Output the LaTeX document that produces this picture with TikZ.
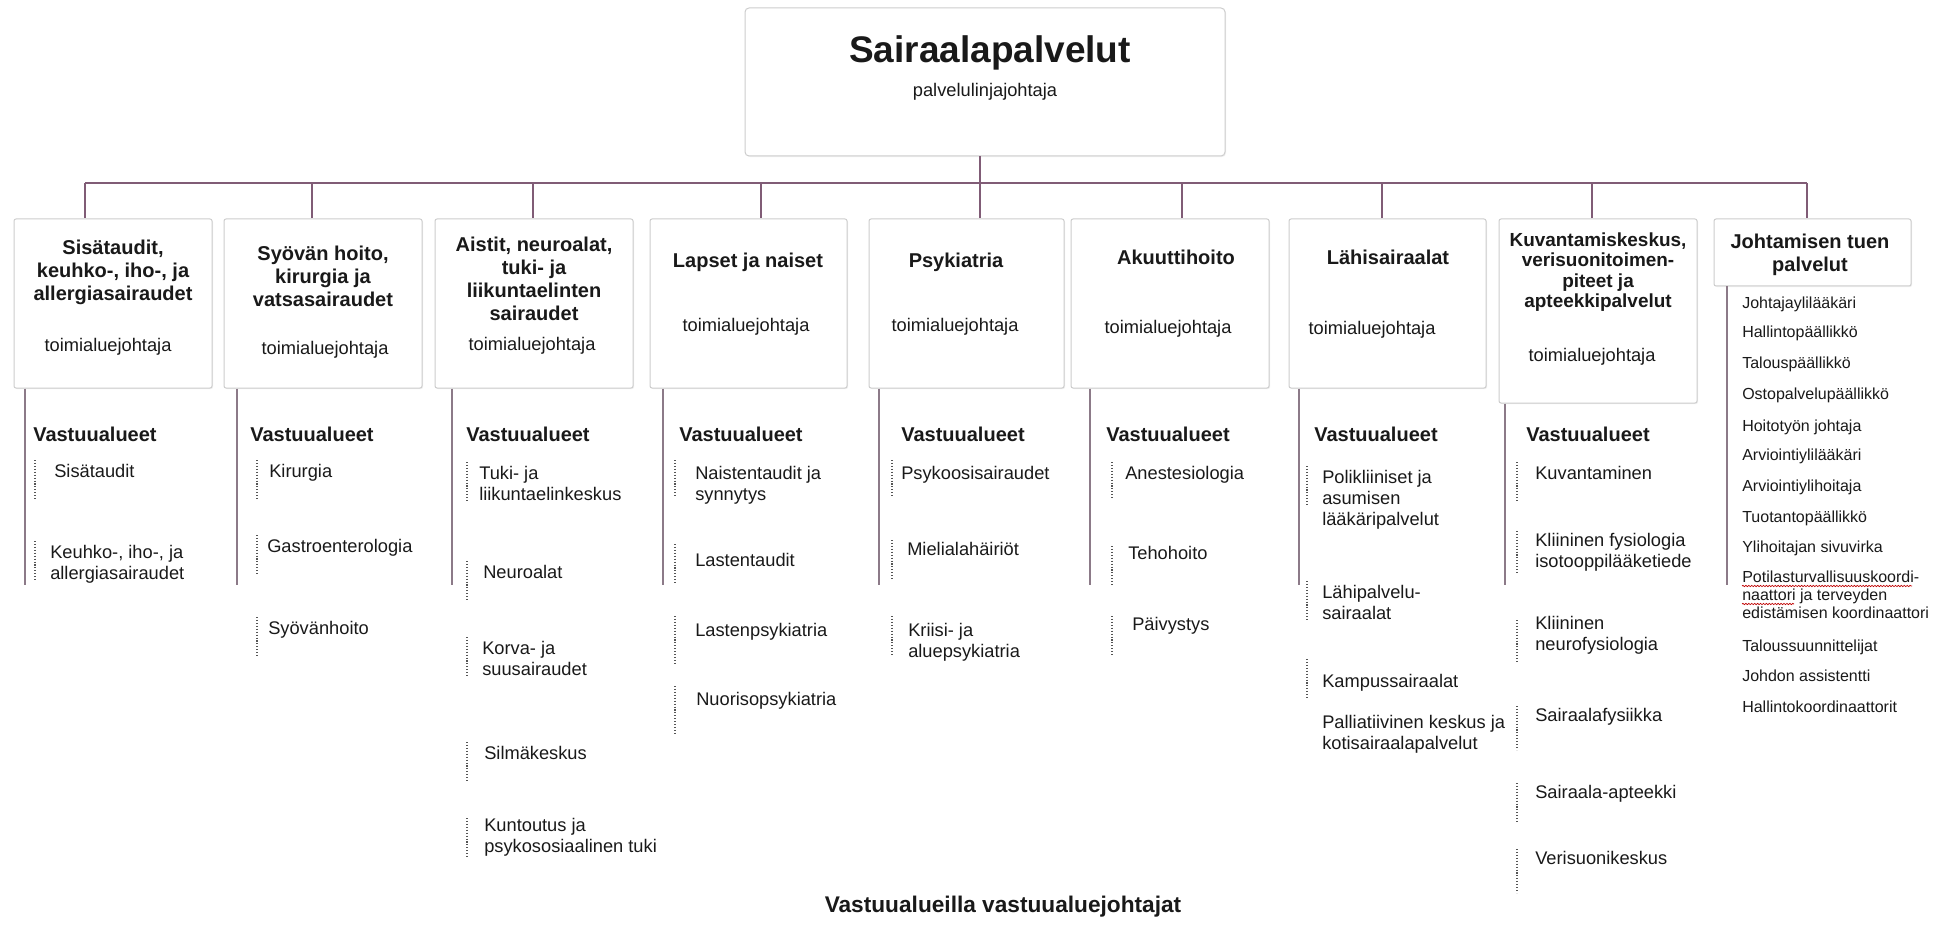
\documentclass[tikz,border=0pt]{standalone}
\usepackage{fontspec}
\setmainfont{Liberation Sans}
\usetikzlibrary{
  calc,
  decorations.pathmorphing,
  fit,
  positioning,
  shadows
}
\definecolor{ink}{RGB}{25,25,25}
\definecolor{boxgray}{RGB}{205,205,205}
\definecolor{busmauve}{RGB}{128,92,118}
\definecolor{rulemauve}{RGB}{140,122,136}
\definecolor{dotgray}{RGB}{85,85,85}
\tikzset{
  % For the boxes of the chart.
  box/.style={
    draw=boxgray,
    line width=0.75pt,
    rounded corners=1.5pt,
    fill=white,
    drop shadow={shadow xshift=0.8pt, shadow yshift=-0.8pt, opacity=0.12},
    inner sep=0pt},
%
  % For the lines from the top box down to the units.
  bus line/.style={
    draw=busmauve,
    line width=1.1pt},
%
  % For the solid lines below the unit boxes.
  column line/.style={
    draw=rulemauve,
    line width=1.1pt},
%
  % For the short dotted lines in front of the items.
  dotrule/.style={
    draw=dotgray,
    line width=0.8pt,
    dash pattern=on 0.8pt off 1.4pt},
%
  % For the wavy spell-check underline.
  spelling/.style={
    draw=red!75!black,
    line width=0.5pt,
    decorate,
    decoration={snake, amplitude=0.5pt, segment length=2.2pt}},
%
  % For the name of the whole service line.
  main title/.style={
    text=ink,
    font=\fontsize{27.75}{32}\selectfont\bfseries},
%
  % For the names of the units.
  heading/.style={
    text=ink,
    align=center,
    inner sep=0pt,
    font=\fontsize{15}{17.25}\selectfont\bfseries},
  small heading/.style={
    heading,
    font=\fontsize{14.2}{15.2}\selectfont\bfseries},
%
  % For the job titles inside the boxes.
  role/.style={
    text=ink,
    inner sep=0pt,
    font=\fontsize{13.7}{16}\selectfont},
%
  % For the 'Vastuualueet' headings.
  areas/.style={
    text=ink,
    anchor=west,
    inner sep=0pt,
    font=\fontsize{15}{17}\selectfont\bfseries},
%
  % For the areas of responsibility.
  item/.style={
    text=ink,
    anchor=north west,
    align=left,
    inner sep=0pt,
    font=\fontsize{13.7}{15.75}\selectfont},
%
  % For the staff list of the last unit.
  staff/.style={
    item,
    font=\fontsize{12}{13.5}\selectfont},
%
  % For the note at the bottom.
  footer/.style={
    text=ink,
    font=\fontsize{17}{20}\selectfont\bfseries}
}

\begin{document}
\begin{tikzpicture}[x=0.75pt, y=-0.75pt]
  \useasboundingbox (0,0) rectangle (1940,930);

  % top box
  \node[box, rounded corners=3pt, fit={(745,8) (1225,156)}] (chief) {};
  \node[main title] (chief title) at (990,53) {Sairaalapalvelut};
  \node[role] (chief role) at (985,92) {palvelulinjajohtaja};

  \coordinate (bus) at (0,183);
  \coordinate (stem 1) at (85,0);
  \coordinate (stem 2) at (312,0);
  \coordinate (stem 3) at (533,0);
  \coordinate (stem 4) at (761,0);
  \coordinate (stem 5) at (980,0);
  \coordinate (stem 6) at (1182,0);
  \coordinate (stem 7) at (1382,0);
  \coordinate (stem 8) at (1592,0);
  \coordinate (stem 9) at (1807,0);

  % unit boxes
  \node[box, fit={(14,219) (212,388)}] (box 1) {};
  \node[box, fit={(224,219) (422,388)}] (box 2) {};
  \node[box, fit={(435,219) (633,388)}] (box 3) {};
  \node[box, fit={(650,219) (847,388)}] (box 4) {};
  \node[box, fit={(869,219) (1064,388)}] (box 5) {};
  \node[box, fit={(1071,219) (1269,388)}] (box 6) {};
  \node[box, fit={(1289,219) (1486,388)}] (box 7) {};
  \node[box, fit={(1499,219) (1697,403)}] (box 8) {};
  \node[box, fit={(1714,219) (1911,286)}] (box 9) {};

  \draw[bus line] (chief.south -| stem 5) -- (stem 5 |- bus);
  \draw[bus line] (stem 1 |- bus) -- (stem 9 |- bus);
  \draw[bus line] (stem 1 |- bus) -- (stem 1 |- box 1.north);
  \draw[bus line] (stem 2 |- bus) -- (stem 2 |- box 2.north);
  \draw[bus line] (stem 3 |- bus) -- (stem 3 |- box 3.north);
  \draw[bus line] (stem 4 |- bus) -- (stem 4 |- box 4.north);
  \draw[bus line] (stem 5 |- bus) -- (stem 5 |- box 5.north);
  \draw[bus line] (stem 6 |- bus) -- (stem 6 |- box 6.north);
  \draw[bus line] (stem 7 |- bus) -- (stem 7 |- box 7.north);
  \draw[bus line] (stem 8 |- bus) -- (stem 8 |- box 8.north);
  \draw[bus line] (stem 9 |- bus) -- (stem 9 |- box 9.north);

  \node[heading] (head 1) at (113,272)
    {Sisätaudit,\\keuhko-, iho-, ja\\allergiasairaudet};
  \node[role] (role 1) at (108,347) {toimialuejohtaja};
  \node[heading] (head 2) at (323,276)
    {Syövän hoito,\\kirurgia ja\\vatsasairaudet};
  \node[role] (role 2) at (325,350) {toimialuejohtaja};
  \node[heading] (head 3) at (534,279)
    {Aistit, neuroalat,\\tuki- ja\\liikuntaelinten\\sairaudet};
  \node[role] (role 3) at (532,346) {toimialuejohtaja};
  \node[heading] (head 4) at (748,262) {Lapset ja naiset};
  \node[role] (role 4) at (746,327) {toimialuejohtaja};
  \node[heading] (head 5) at (956,262) {Psykiatria};
  \node[role] (role 5) at (955,327) {toimialuejohtaja};
  \node[heading] (head 6) at (1176,257) {Akuuttihoito};
  \node[role] (role 6) at (1168,329) {toimialuejohtaja};
  \node[heading] (head 7) at (1388,257) {Lähisairaalat};
  \node[role] (role 7) at (1372,330) {toimialuejohtaja};
  \node[small heading] (head 8) at (1598,272)
    {Kuvantamiskeskus,\\verisuonitoimen-\\piteet ja\\apteekkipalvelut};
  \node[role] (role 8) at (1592,357) {toimialuejohtaja};
  \node[heading] (head 9) at (1810,255) {Johtamisen tuen\\palvelut};

  % solid lines below the boxes
  \coordinate (rule 1) at (25,585);
  \coordinate (rule 2) at (237,585);
  \coordinate (rule 3) at (452,585);
  \coordinate (rule 4) at (663,585);
  \coordinate (rule 5) at (879,585);
  \coordinate (rule 6) at (1090,585);
  \coordinate (rule 7) at (1299,585);
  \coordinate (rule 8) at (1505,585);
  \coordinate (rule 9) at (1727,585);
  \draw[column line] (rule 1 |- box 1.south) -- (rule 1);
  \draw[column line] (rule 2 |- box 2.south) -- (rule 2);
  \draw[column line] (rule 3 |- box 3.south) -- (rule 3);
  \draw[column line] (rule 4 |- box 4.south) -- (rule 4);
  \draw[column line] (rule 5 |- box 5.south) -- (rule 5);
  \draw[column line] (rule 6 |- box 6.south) -- (rule 6);
  \draw[column line] (rule 7 |- box 7.south) -- (rule 7);
  \draw[column line] (rule 8 |- box 8.south) -- (rule 8);
  \draw[column line] (rule 9 |- box 9.south) -- (rule 9);

  \node[areas] (areas 1) at (33,434) {Vastuualueet};
  \node[areas] (areas 2) at (250,434) {Vastuualueet};
  \node[areas] (areas 3) at (466,434) {Vastuualueet};
  \node[areas] (areas 4) at (679,434) {Vastuualueet};
  \node[areas] (areas 5) at (901,434) {Vastuualueet};
  \node[areas] (areas 6) at (1106,434) {Vastuualueet};
  \node[areas] (areas 7) at (1314,434) {Vastuualueet};
  \node[areas] (areas 8) at (1526,434) {Vastuualueet};

  \coordinate (dots 1) at (35,0);
  \coordinate (dots 2) at (257,0);
  \coordinate (dots 3) at (467,0);
  \coordinate (dots 4) at (675,0);
  \coordinate (dots 5) at (892,0);
  \coordinate (dots 6) at (1112,0);
  \coordinate (dots 7) at (1307,0);
  \coordinate (dots 8) at (1517,0);

  % areas of responsibility
  \node[item] (item 1a) at (54,464) {Sisätaudit};
  \node[item] (item 1b) at (50,545) {Keuhko-, iho-, ja\\allergiasairaudet};

  \node[item] (item 2a) at (269,464) {Kirurgia};
  \node[item] (item 2b) at (267,539) {Gastroenterologia};
  \node[item] (item 2c) at (268,621) {Syövänhoito};

  \node[item] (item 3a) at (479,466) {Tuki- ja\\liikuntaelinkeskus};
  \node[item] (item 3b) at (483,565) {Neuroalat};
  \node[item] (item 3c) at (482,641) {Korva- ja\\suusairaudet};
  \node[item] (item 3d) at (484,746) {Silmäkeskus};
  \node[item] (item 3e) at (484,818) {Kuntoutus ja\\psykososiaalinen tuki};

  \node[item] (item 4a) at (695,466) {Naistentaudit ja\\synnytys};
  \node[item] (item 4b) at (695,553) {Lastentaudit};
  \node[item] (item 4c) at (695,623) {Lastenpsykiatria};
  \node[item] (item 4d) at (696,692) {Nuorisopsykiatria};

  \node[item] (item 5a) at (901,466) {Psykoosisairaudet};
  \node[item] (item 5b) at (907,542) {Mielialahäiriöt};
  \node[item] (item 5c) at (908,623) {Kriisi- ja\\aluepsykiatria};

  \node[item] (item 6a) at (1125,466) {Anestesiologia};
  \node[item] (item 6b) at (1128,546) {Tehohoito};
  \node[item] (item 6c) at (1132,617) {Päivystys};

  \node[item] (item 7a) at (1322,470) {Polikliiniset ja\\asumisen\\lääkäripalvelut};
  \node[item] (item 7b) at (1322,585) {Lähipalvelu-\\sairaalat};
  \node[item] (item 7c) at (1322,674) {Kampussairaalat};
  \node[item] (item 7d) at (1322,715) {Palliatiivinen keskus ja\\kotisairaalapalvelut};

  \node[item] (item 8a) at (1535,466) {Kuvantaminen};
  \node[item] (item 8b) at (1535,533) {Kliininen fysiologia\\isotooppilääketiede};
  \node[item] (item 8c) at (1535,616) {Kliininen\\neurofysiologia};
  \node[item] (item 8d) at (1535,708) {Sairaalafysiikka};
  \node[item] (item 8e) at (1535,785) {Sairaala-apteekki};
  \node[item] (item 8f) at (1535,851) {Verisuonikeskus};

  \draw[dotrule] ($(dots 1 |- item 1a.north)+(0,-4)$) -- +(0,40);
  \draw[dotrule] ($(dots 1 |- item 1b.north)+(0,-4)$) -- +(0,40);
  \draw[dotrule] ($(dots 2 |- item 2a.north)+(0,-4)$) -- +(0,40);
  \draw[dotrule] ($(dots 2 |- item 2b.north)+(0,-4)$) -- +(0,40);
  \draw[dotrule] ($(dots 2 |- item 2c.north)+(0,-4)$) -- +(0,40);
  \draw[dotrule] ($(dots 3 |- item 3a.north)+(0,-4)$) -- +(0,40);
  \draw[dotrule] ($(dots 3 |- item 3b.north)+(0,-4)$) -- +(0,40);
  \draw[dotrule] ($(dots 3 |- item 3c.north)+(0,-4)$) -- +(0,40);
  \draw[dotrule] ($(dots 3 |- item 3d.north)+(0,-4)$) -- +(0,40);
  \draw[dotrule] ($(dots 3 |- item 3e.north)+(0,0)$) -- +(0,40);
  \draw[dotrule] ($(dots 4 |- item 4a.north)+(0,-6)$) -- +(0,36);
  \draw[dotrule] ($(dots 4 |- item 4b.north)+(0,-9)$) -- +(0,39);
  \draw[dotrule] ($(dots 4 |- item 4c.north)+(0,-7)$) -- +(0,47);
  \draw[dotrule] ($(dots 4 |- item 4d.north)+(0,-6)$) -- +(0,47);
  \draw[dotrule] ($(dots 5 |- item 5a.north)+(0,-6)$) -- +(0,37);
  \draw[dotrule] ($(dots 5 |- item 5b.north)+(0,-2)$) -- +(0,41);
  \draw[dotrule] ($(dots 5 |- item 5c.north)+(0,-7)$) -- +(0,39);
  \draw[dotrule] ($(dots 6 |- item 6a.north)+(0,-4)$) -- +(0,37);
  \draw[dotrule] ($(dots 6 |- item 6b.north)+(0,0)$) -- +(0,39);
  \draw[dotrule] ($(dots 6 |- item 6c.north)+(0,-1)$) -- +(0,39);
  \draw[dotrule] ($(dots 7 |- item 7a.north)+(0,-4)$) -- +(0,40);
  \draw[dotrule] ($(dots 7 |- item 7b.north)+(0,-4)$) -- +(0,40);
  \draw[dotrule] ($(dots 7 |- item 7c.north)+(0,-15)$) -- +(0,40);
  \draw[dotrule] ($(dots 8 |- item 8a.north)+(0,-4)$) -- +(0,40);
  \draw[dotrule] ($(dots 8 |- item 8b.north)+(0,-2)$) -- +(0,42);
  \draw[dotrule] ($(dots 8 |- item 8c.north)+(0,4)$) -- +(0,42);
  \draw[dotrule] ($(dots 8 |- item 8d.north)+(0,-2)$) -- +(0,44);
  \draw[dotrule] ($(dots 8 |- item 8e.north)+(0,-2)$) -- +(0,40);
  \draw[dotrule] ($(dots 8 |- item 8f.north)+(0,-2)$) -- +(0,44);

  % staff of the last unit
  \node[staff] (staff 1) at (1742,297) {Johtajaylilääkäri};
  \node[staff] (staff 2) at (1742,326) {Hallintopäällikkö};
  \node[staff] (staff 3) at (1742,357) {Talouspäällikkö};
  \node[staff] (staff 4) at (1742,388) {Ostopalvelupäällikkö};
  \node[staff] (staff 5) at (1742,420) {Hoitotyön johtaja};
  \node[staff] (staff 6) at (1742,449) {Arviointiylilääkäri};
  \node[staff] (staff 7) at (1742,480) {Arviointiylihoitaja};
  \node[staff] (staff 8) at (1742,511) {Tuotantopäällikkö};
  \node[staff] (staff 9) at (1742,541) {Ylihoitajan sivuvirka};
  \node[staff] (staff 10) at (1742,571)
    {Potilasturvallisuuskoordi-\\naattori ja terveyden\\edistämisen koordinaattori};
  \node[staff] (staff 11) at (1742,640) {Taloussuunnittelijat};
  \node[staff] (staff 12) at (1742,670) {Johdon assistentti};
  \node[staff] (staff 13) at (1742,701) {Hallintokoordinaattorit};

  \draw[spelling] ($(staff 10.north west)+(0,15)$) -- +(170,0);
  \draw[spelling] ($(staff 10.north west)+(0,33)$) -- +(52,0);

  \node[footer] (note) at (1003,907) {Vastuualueilla vastuualuejohtajat};
\end{tikzpicture}
\end{document}
